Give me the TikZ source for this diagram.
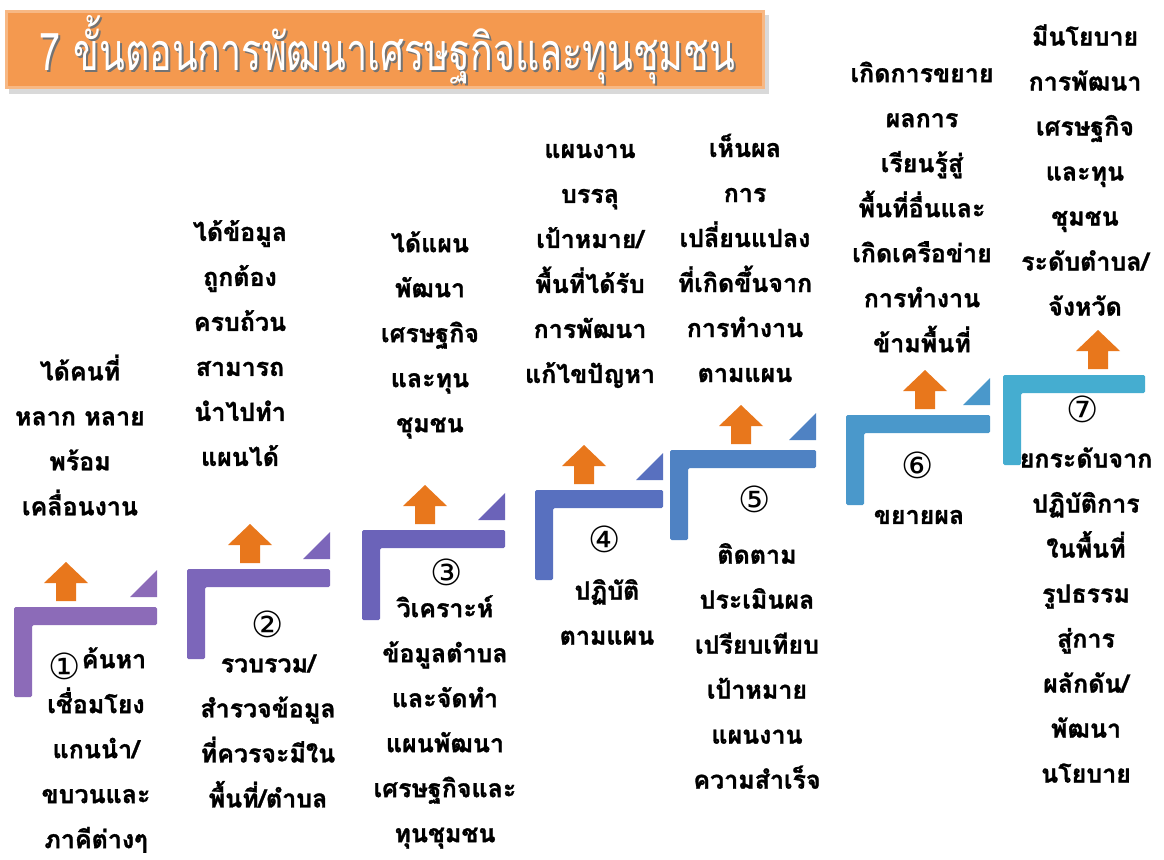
\documentclass[tikz,border=0pt]{standalone}
\usepackage{fontspec}
\newfontfamily\thaifont[Script=Thai,BoldFeatures={FakeBold=1.2}]{Loma}
\newfontfamily\symfont{DejaVu Sans}
\definecolor{cA}{HTML}{8C6BB8}
\definecolor{cB}{HTML}{7C66BA}
\definecolor{cC}{HTML}{6B63B9}
\definecolor{cD}{HTML}{5870BF}
\definecolor{cE}{HTML}{4F82C3}
\definecolor{cF}{HTML}{4A98CB}
\definecolor{cG}{HTML}{45ADD0}
\definecolor{arrowor}{HTML}{E8771C}
\definecolor{titleor}{HTML}{F4994F}
\tikzset{
  txt/.style={font=\thaifont\bfseries\fontsize{25}{45}\selectfont, align=center, inner sep=0pt, text=black},
  num/.style={font=\symfont\fontsize{36}{38}\selectfont, inner sep=0pt, text=black},
  uparrow/.style={fill=arrowor, draw=none},
}
% #1 x0, #2 y0 (top of bar), #3 bar length, #4 colour, #5 triangle? (1/0)
\newcommand\stepshape[5]{%
  \fill[#4, rounded corners=1.5pt] (#1,#2) -- (#1+#3,#2) -- (#1+#3,#2+18) -- (#1+18,#2+18) -- (#1+18,#2+90) -- (#1,#2+90) -- cycle;
  \ifnum#5=1
  \fill[#4] (#1+#3-27,#2-10) -- (#1+#3,#2-10) -- (#1+#3,#2-37) -- cycle;
  \fi
}
% #1 centre x, #2 bar top y
\newcommand\steparrow[2]{%
  \fill[uparrow] (#1,#2-45) -- (#1+22,#2-24) -- (#1+10,#2-24) -- (#1+10,#2-6) -- (#1-10,#2-6) -- (#1-10,#2-24) -- (#1-22,#2-24) -- cycle;
}
\begin{document}
\begin{tikzpicture}[x=1pt,y=-1pt]
\useasboundingbox (0,0) rectangle (1164,859);
\fill[white] (0,0) rectangle (1164,859);
% title
\fill[black!15] (9,15) rectangle (769,94);
\fill[titleor!70!white] (5,10) rectangle (765,89);
\fill[titleor] (8,13) rectangle (762,86);
\node[font=\thaifont\fontsize{52}{56}\selectfont, text=black!55, inner sep=0pt] (titleshadow) at (389.5,52) {\resizebox{695pt}{\height}{7 ขั้นตอนการพัฒนาเศรษฐกิจและทุนชุมชน}};
\node[font=\thaifont\fontsize{52}{56}\selectfont, text=white, inner sep=0pt] (title) at (387.5,50) {\resizebox{695pt}{\height}{7 ขั้นตอนการพัฒนาเศรษฐกิจและทุนชุมชน}};

% steps
\stepshape{14}{607}{143}{cA}{1}
\stepshape{187}{569}{143}{cB}{1}
\stepshape{362}{530}{143}{cC}{1}
\stepshape{535}{490}{128}{cD}{1}
\stepshape{670}{450}{146}{cE}{1}
\stepshape{846}{415}{144}{cF}{1}
\stepshape{1003}{375}{142}{cG}{0}

\steparrow{66}{607}
\steparrow{250}{569}
\steparrow{425}{530}
\steparrow{584}{490}
\steparrow{741}{450}
\steparrow{925}{415}
\steparrow{1098}{375}

% texts above
\node[txt] (t1) at (80,435) {ได้คนที่\\หลาก หลาย\\พร้อม\\เคลื่อนงาน};
\node[txt] (t2) at (240,343) {ได้ข้อมูล\\ถูกต้อง\\ครบถ้วน\\สามารถ\\นำไปทำ\\แผนได้};
\node[txt] (t3) at (430,335) {ได้แผน\\พัฒนา\\เศรษฐกิจ\\และทุน\\ชุมชน};
\node[txt] (t4) at (590,266) {แผนงาน\\บรรลุ\\เป้าหมาย/\\พื้นที่ได้รับ\\การพัฒนา\\แก้ไขปัญหา};
\node[txt] (t5) at (745,258) {เห็นผล\\การ\\เปลี่ยนแปลง\\ที่เกิดขึ้นจาก\\การทำงาน\\ตามแผน};
\node[txt] (t6) at (922,207) {เกิดการขยาย\\ผลการ\\เรียนรู้สู่\\พื้นที่อื่นและ\\เกิดเครือข่าย\\การทำงาน\\ข้ามพื้นที่};
\node[txt] (t7) at (1085,170) {มีนโยบาย\\การพัฒนา\\เศรษฐกิจ\\และทุน\\ชุมชน\\ระดับตำบล/\\จังหวัด};

% texts below
\node[txt] (b1) at (96,750) {\hspace*{36pt}ค้นหา\\เชื่อมโยง\\แกนนำ/\\ขบวนและ\\ภาคีต่างๆ};
\node[num] (n1) at (65,666) {①};
\node[num] (n2) at (268,624) {②};
\node[txt] (b2) at (268,731) {รวบรวม/\\สำรวจข้อมูล\\ที่ควรจะมีใน\\พื้นที่/ตำบล};
\node[num] (n3) at (447,572) {③};
\node[txt] (b3) at (445,722) {วิเคราะห์\\ข้อมูลตำบล\\และจัดทำ\\แผนพัฒนา\\เศรษฐกิจและ\\ทุนชุมชน};
\node[num] (n4) at (605,539) {④};
\node[txt] (b4) at (607,612) {ปฏิบัติ\\ตามแผน};
\node[num] (n5) at (755,499) {⑤};
\node[txt] (b5) at (757,666) {ติดตาม\\ประเมินผล\\เปรียบเทียบ\\เป้าหมาย\\แผนงาน\\ความสำเร็จ};
\node[num] (n6) at (918,465) {⑥};
\node[txt] (b6) at (919,517) {ขยายผล};
\node[num] (n7) at (1083,409) {⑦};
\node[txt] (b7) at (1086,615) {ยกระดับจาก\\ปฏิบัติการ\\ในพื้นที่\\รูปธรรม\\สู่การ\\ผลักดัน/\\พัฒนา\\นโยบาย};
\end{tikzpicture}
\end{document}
